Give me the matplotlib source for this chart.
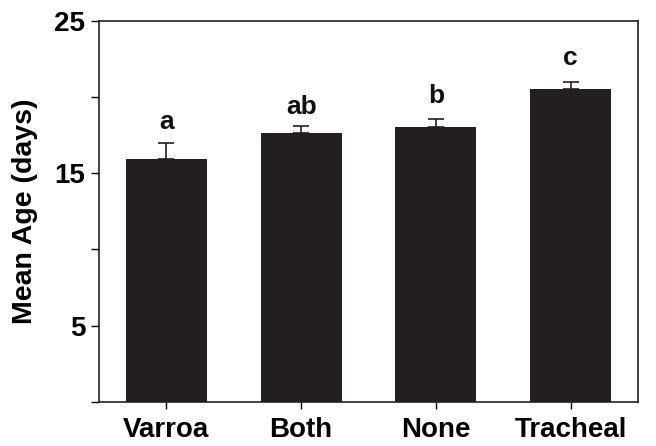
import matplotlib
matplotlib.use("Agg")
import matplotlib.pyplot as plt
from matplotlib.ticker import MultipleLocator

# Mean age per mite-infestation group
groups = ["Varroa", "Both", "None", "Tracheal"]
mean_age = [15.9, 17.6, 18.05, 20.55]
sem = [1.05, 0.5, 0.5, 0.4]
letters = ["a", "ab", "b", "c"]
letter_gap = [0.6, 0.45, 0.7, 0.8]

plt.rcParams["font.family"] = ["Liberation Sans", "DejaVu Sans"]
plt.rcParams["font.weight"] = "bold"

fig = plt.figure(figsize=(6.56, 4.46), dpi=100)
ax = fig.add_axes([0.151, 0.0993, 0.8216, 0.8543])

x = range(len(groups))
bar_color = "#231f20"
ax.bar(x, mean_age, width=0.6, color=bar_color, zorder=2)
ax.errorbar(x, mean_age, yerr=[[0] * len(sem), sem], fmt="none",
            ecolor=bar_color, elinewidth=1.2, capsize=6, capthick=1.2, zorder=3)

for xi, m, s, lab, g in zip(x, mean_age, sem, letters, letter_gap):
    ax.text(xi, m + s + g, lab, ha="center", va="bottom",
            fontsize=19, fontweight="bold", color="#111111")

ax.set_xlim(-0.5, 3.5)
ax.set_ylim(0, 25)
ax.set_xticks(list(x))
ax.set_xticklabels(groups, fontsize=20, fontweight="bold")
ax.set_yticks([5, 15, 25])
ax.yaxis.set_minor_locator(MultipleLocator(5))
ax.tick_params(axis="y", which="major", labelsize=20, length=6, width=1, pad=4)
ax.tick_params(axis="y", which="minor", length=6, width=1)
ax.tick_params(axis="x", length=5, width=1, pad=6)
for lbl in ax.get_yticklabels():
    lbl.set_fontweight("bold")
ax.set_ylabel("Mean Age (days)", fontsize=20.5, fontweight="bold", labelpad=12)

for side in ["left", "right", "top", "bottom"]:
    ax.spines[side].set_linewidth(1.2)
    ax.spines[side].set_color("#222222")

fig.savefig("out.png", dpi=100)
